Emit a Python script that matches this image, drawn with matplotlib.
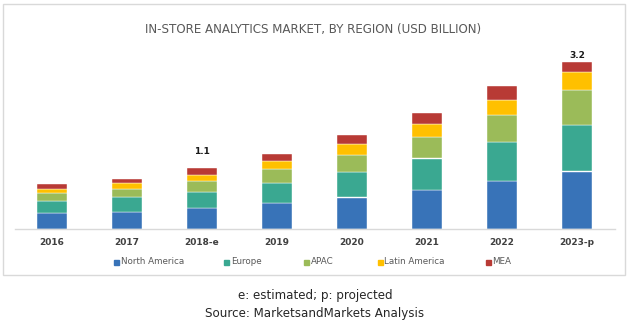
import numpy as np
import matplotlib
matplotlib.use("Agg")
import matplotlib.pyplot as plt
from matplotlib.patches import Rectangle

# ------------------------------------------------------------------
# Data (USD billion)
# ------------------------------------------------------------------
years = ["2016", "2017", "2018-e", "2019", "2020", "2021", "2022", "2023-p"]
regions = ["North America", "Europe", "APAC", "Latin America", "MEA"]

north_america = [0.31, 0.33, 0.40, 0.50, 0.60, 0.75, 0.91, 1.10]
europe        = [0.23, 0.27, 0.31, 0.38, 0.49, 0.60, 0.75, 0.90]
apac          = [0.14, 0.17, 0.21, 0.27, 0.33, 0.42, 0.53, 0.66]
latin_america = [0.09, 0.10, 0.12, 0.15, 0.21, 0.24, 0.28, 0.35]
mea           = [0.08, 0.09, 0.12, 0.14, 0.17, 0.21, 0.27, 0.19]

# totals shown above two of the bars
label_years = ["2018-e", "2023-p"]
label_text = ["1.1", "3.2"]
label_y = [1.49, 3.33]

colors = ["#3873b8", "#3aa891", "#9bbb59", "#ffc000", "#b83a35"]
series = [north_america, europe, apac, latin_america, mea]

# ------------------------------------------------------------------
# Figure
# ------------------------------------------------------------------
W, H = 629, 323
fig = plt.figure(figsize=(W / 100, H / 100), dpi=100)
fig.patch.set_facecolor("white")

# light frame around the chart area
fig.add_artist(Rectangle((3 / W, 1 - 275 / H), 622 / W, 271 / H,
                         transform=fig.transFigure, fill=False,
                         edgecolor="#d9d9d9", linewidth=1.0))

ax = fig.add_axes([14.5 / W, 1 - 228.7 / H, 600 / W, 182 / H])

x = np.arange(len(years))
bottom = np.zeros(len(years))
for name, vals, c in zip(regions, series, colors):
    vals = np.array(vals)
    ax.bar(x, vals, bottom=bottom, width=0.39, color=c, label=name,
           edgecolor="white", linewidth=0.3)
    bottom += vals

for yr, txt, yy in zip(label_years, label_text, label_y):
    ax.text(years.index(yr), yy, txt, ha="center", va="center",
            fontsize=6.5, fontweight="bold", color="#1a1a1a")

ax.set_xlim(-0.5, len(years) - 0.5)
ax.set_ylim(0, 3.5)
ax.set_xticks(x)
ax.set_xticklabels(years, fontsize=6.5, fontweight="bold", color="#404040")
ax.tick_params(axis="x", length=0, pad=7)
ax.set_yticks([])
for s in ["top", "right", "left"]:
    ax.spines[s].set_visible(False)
ax.spines["bottom"].set_color("#d9d9d9")
ax.spines["bottom"].set_linewidth(1.0)

# title
fig.text(313 / W, 1 - 30 / H, "IN-STORE ANALYTICS MARKET, BY REGION (USD BILLION)",
         ha="center", va="center", fontsize=8.6, color="#595959")

# legend, laid out by hand to match the spacing in the original
legend_x = [116.7, 227, 306, 380, 488]
for lx, name, c in zip(legend_x, regions, colors):
    fig.add_artist(Rectangle(((lx - 2.5) / W, 1 - 264.5 / H), 5 / W, 5 / H,
                             transform=fig.transFigure, color=c))
    fig.text((lx + 4.5) / W, 1 - 262 / H, name, ha="left", va="center",
             fontsize=6.3, color="#595959")

# footnotes
fig.text(315 / W, 1 - 295 / H, "e: estimated; p: projected",
         ha="center", va="center", fontsize=8.6, color="#262626")
fig.text(315 / W, 1 - 313 / H, "Source: MarketsandMarkets Analysis",
         ha="center", va="center", fontsize=8.6, color="#262626")

fig.savefig("out.png", dpi=100)
